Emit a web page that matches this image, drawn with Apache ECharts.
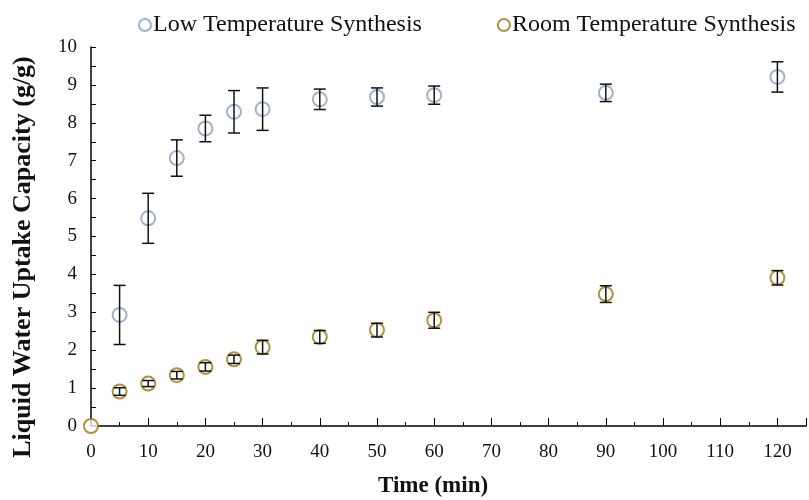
<!DOCTYPE html>
<html>
<head>
<meta charset="utf-8">
<script src="https://cdn.jsdelivr.net/npm/echarts@6/dist/echarts.min.js"></script>
<style>html,body{margin:0;padding:0;background:#fff}#c{width:809px;height:500px}</style>
</head>
<body>
<div id="c"></div>
<script>
var times = [0, 5, 10, 15, 20, 25, 30, 40, 50, 60, 90, 120];
var lowTimes = [5, 10, 15, 20, 25, 30, 40, 50, 60, 90, 120];
var lowValues = [2.93, 5.48, 7.07, 7.85, 8.29, 8.36, 8.62, 8.68, 8.73, 8.79, 9.21];
var lowErrors = [0.78, 0.66, 0.48, 0.35, 0.56, 0.56, 0.27, 0.24, 0.24, 0.23, 0.40];
var roomValues = [0, 0.91, 1.12, 1.34, 1.56, 1.76, 2.08, 2.35, 2.53, 2.79, 3.48, 3.91];
var roomErrors = [0, 0.10, 0.08, 0.10, 0.11, 0.11, 0.18, 0.17, 0.18, 0.21, 0.22, 0.19];
var xTickLabels = [0, 10, 20, 30, 40, 50, 60, 70, 80, 90, 100, 110, 120];
var yTickLabels = [0, 1, 2, 3, 4, 5, 6, 7, 8, 9, 10];
var xTitle = 'Time (min)';
var yTitle = 'Liquid Water Uptake Capacity (g/g)';

var lowColor = '#8a9cbf';
var roomColor = '#9c760f';
var font = '"Liberation Serif", "Times New Roman", serif';

function pairs(xs, ys) { return xs.map(function (x, i) { return [x, ys[i]]; }); }
function errData(xs, ys, es) {
  var out = [];
  xs.forEach(function (x, i) { if (es[i] > 0) out.push([x, ys[i] - es[i], ys[i] + es[i]]); });
  return out;
}
function renderErr(params, api) {
  var x = api.value(0);
  var lo = api.coord([x, api.value(1)]);
  var hi = api.coord([x, api.value(2)]);
  var hw = 6;
  var style = { stroke: '#111', lineWidth: 1.5 };
  return {
    type: 'group',
    children: [
      { type: 'line', shape: { x1: lo[0], y1: lo[1], x2: hi[0], y2: hi[1] }, style: style },
      { type: 'line', shape: { x1: lo[0] - hw, y1: lo[1], x2: lo[0] + hw, y2: lo[1] }, style: style },
      { type: 'line', shape: { x1: hi[0] - hw, y1: hi[1], x2: hi[0] + hw, y2: hi[1] }, style: style }
    ]
  };
}

var chart = echarts.init(document.getElementById('c'), null, { renderer: 'canvas' });
var xMax = 125;
chart.setOption({
  animation: false,
  backgroundColor: '#fff',
  textStyle: { fontFamily: font },
  grid: { left: 91, right: 0, top: 47, bottom: 74, containLabel: false },
  legend: {
    top: 8,
    left: 133,
    itemGap: 75,
    itemWidth: 12,
    itemHeight: 12,
    textStyle: { fontFamily: font, fontSize: 24, color: '#111', padding: [0, 0, 0, -3] },
    data: ['Low Temperature Synthesis', 'Room Temperature Synthesis']
  },
  graphic: [
    {
      type: 'text', left: 378, top: 475,
      style: { text: xTitle, font: 'bold 23px ' + font, fill: '#111' }
    },
    {
      type: 'text', x: 23, y: 257, rotation: Math.PI / 2,
      style: { text: yTitle, font: 'bold 26px ' + font, fill: '#111', align: 'center', verticalAlign: 'middle' }
    }
  ],
  xAxis: [{
    type: 'value', min: 0, max: xMax, interval: 5,
    position: 'bottom',
    axisLine: { show: true, lineStyle: { color: '#000', width: 1.5 } },
    axisTick: { show: true, inside: true, length: 4, lineStyle: { color: '#000' } },
    axisLabel: { show: false },
    splitLine: { show: false }
  }, {
    type: 'value', min: 0, max: xMax, interval: 10,
    position: 'bottom',
    axisLine: { show: false },
    axisTick: { show: true, inside: true, length: 8, lineStyle: { color: '#000' } },
    axisLabel: {
      show: true, fontFamily: font, fontSize: 19, color: '#111', margin: 17,
      formatter: function (v) { return xTickLabels.indexOf(v) >= 0 ? String(v) : ''; }
    },
    splitLine: { show: false }
  }],
  yAxis: {
    type: 'value', min: 0, max: 10, interval: 1,
    axisLine: { show: true, lineStyle: { color: '#000', width: 1.5 } },
    axisTick: { show: true, inside: true, length: 5, lineStyle: { color: '#000' } },
    minorTick: { show: true, splitNumber: 2, length: 5, lineStyle: { color: '#000' } },
    axisLabel: {
      fontFamily: font, fontSize: 19, color: '#111', margin: 14,
      formatter: function (v) { return yTickLabels.indexOf(v) >= 0 ? String(v) : ''; }
    },
    splitLine: { show: false }
  },
  series: [
    {
      name: 'Low Temperature Synthesis', type: 'scatter',
      data: pairs(lowTimes, lowValues),
      symbol: 'emptyCircle', symbolSize: 14,
      itemStyle: { color: lowColor, borderColor: lowColor, borderWidth: 1.5 },
      z: 3
    },
    {
      name: 'Room Temperature Synthesis', type: 'scatter',
      data: pairs(times, roomValues),
      symbol: 'emptyCircle', symbolSize: 14,
      itemStyle: { color: roomColor, borderColor: roomColor, borderWidth: 1.5 },
      z: 3,
      clip: false
    },
    {
      type: 'custom', name: 'lowErr', renderItem: renderErr,
      data: errData(lowTimes, lowValues, lowErrors), z: 4, silent: true
    },
    {
      type: 'custom', name: 'roomErr', renderItem: renderErr,
      data: errData(times, roomValues, roomErrors), z: 4, silent: true
    }
  ]
});
</script>
</body>
</html>
